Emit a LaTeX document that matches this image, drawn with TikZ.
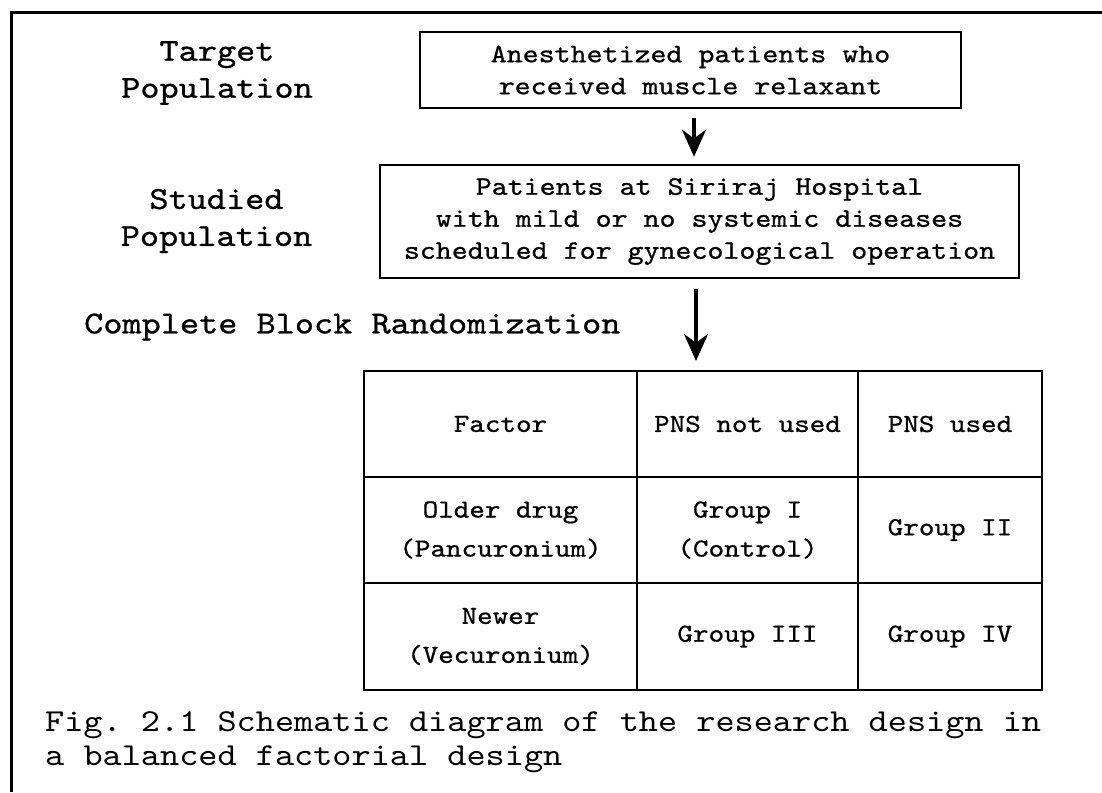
\documentclass[tikz,border=0pt]{standalone}
\usepackage{fontspec}
\setmonofont{lmmono10-regular}[Extension=.otf,FakeStretch=1.14]
\newfontfamily\heavytt{lmmono10-regular}[Extension=.otf,FakeStretch=1.14,FakeBold=0.8]
\usetikzlibrary{arrows.meta}

\begin{document}
\begin{tikzpicture}[x=1pt,y=1pt,yscale=-1,xscale=1,
    popbox/.style={draw,line width=2.6pt,inner sep=0pt,align=center,font=\heavytt\fontsize{26.7}{32}\selectfont},
    sidelabel/.style={inner sep=0pt,align=center,font=\heavytt\fontsize{32}{37}\selectfont},
    cellbox/.style={draw,line width=2pt,inner sep=0pt,align=center,font=\heavytt\fontsize{26}{39}\selectfont},
    captext/.style={anchor=base west,inner sep=0pt,font=\ttfamily\fontsize{32}{34}\selectfont},
    downarrow/.style={line width=4pt,-{Stealth[length=27pt,width=24pt]}}]
        \useasboundingbox (0,0) rectangle (1102,792);

        %Straight Lines [frame]
        \draw [line width=3pt] (1102,12.5) -- (11,12.5) -- (11,792) ;

        %Shape: Rectangle [target box]
        \node [popbox,minimum width=541pt,minimum height=76pt] (target) at (690.5,70) {Anesthetized patients who\\received muscle relaxant};
        %Shape: Rectangle [studied box]
        \node [popbox,minimum width=639pt,minimum height=113pt] (studied) at (699.5,221.5) {Patients at Siriraj Hospital\\with mild or no systemic diseases\\scheduled for gynecological operation};

        % Text Node
        \node [sidelabel] (targetlbl) at (217,73) {Target\\Population};
        % Text Node
        \node [sidelabel] (studiedlbl) at (216.5,221) {Studied\\Population};
        % Text Node
        \node [sidelabel,anchor=west] (randlbl) at (84,327) {Complete Block Randomization};

        %Shape: Table [factorial design]
        \node [cellbox,minimum width=273pt,minimum height=106pt] (factor) at (500.5,424) {Factor};
        \node [cellbox,minimum width=221pt,minimum height=106pt] (notused) at (747.5,424) {PNS not used};
        \node [cellbox,minimum width=184pt,minimum height=106pt] (used) at (950,424) {PNS used};
        \node [cellbox,minimum width=273pt,minimum height=106pt] (older) at (500.5,530) {Older drug\\(Pancuronium)};
        \node [cellbox,minimum width=221pt,minimum height=106pt] (grpI) at (747.5,530) {Group I\\(Control)};
        \node [cellbox,minimum width=184pt,minimum height=106pt] (grpII) at (950,530) {Group II};
        \node [cellbox,minimum width=273pt,minimum height=107pt] (newer) at (500.5,636.5) {Newer\\(Vecuronium)};
        \node [cellbox,minimum width=221pt,minimum height=107pt] (grpIII) at (747.5,636.5) {Group III};
        \node [cellbox,minimum width=184pt,minimum height=107pt] (grpIV) at (950,636.5) {Group IV};

        %Straight Lines [arrows]
        \coordinate (arrA) at (694,0);
        \coordinate (arrB) at (696,0);
        \draw [downarrow,shorten <=9pt,shorten >=7pt] (target.south -| arrA) -- (studied.north -| arrA) ;
        \draw [downarrow,shorten <=10pt,shorten >=9pt] (studied.south -| arrB) -- (factor.north -| arrB) ;

        % Text Node
        \node [captext] (capA) at (45,731) {Fig. 2.1 Schematic diagram of the research design in};
        % Text Node
        \node [captext] (capB) at (45,765) {a balanced factorial design};

\end{tikzpicture}
\end{document}
